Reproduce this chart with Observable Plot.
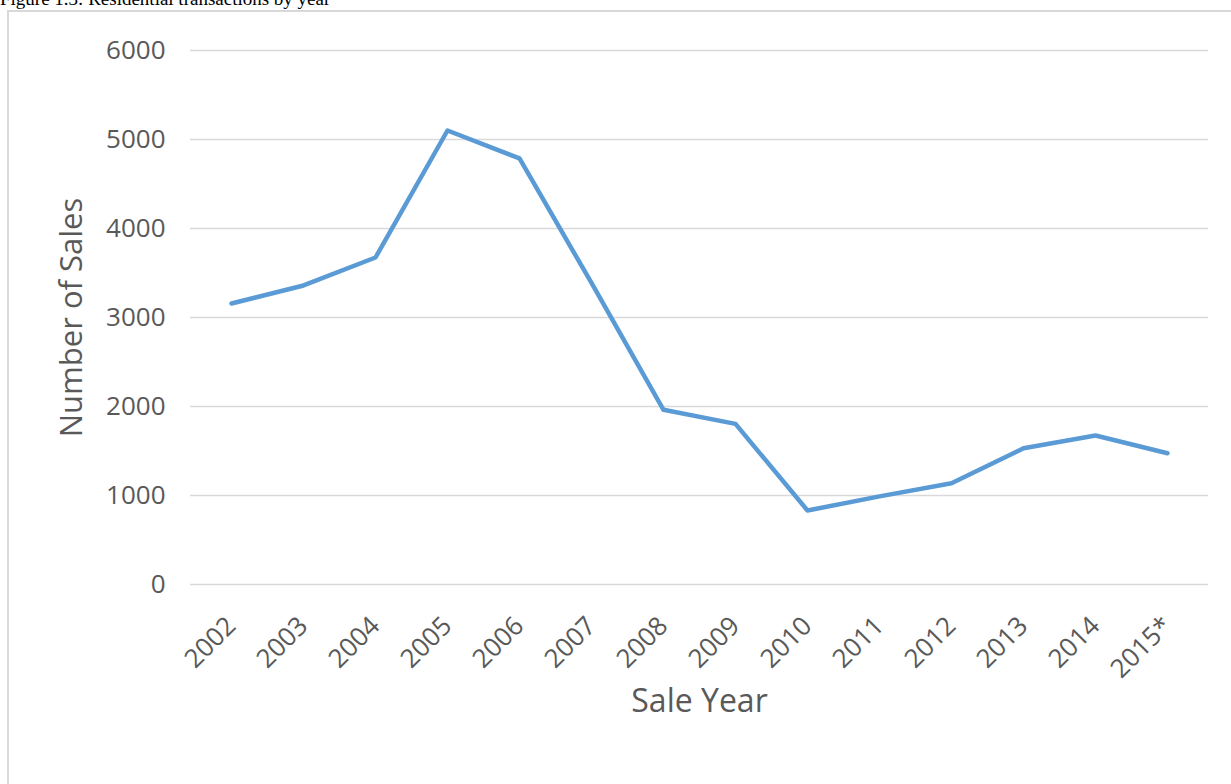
<!DOCTYPE html>
<html><head><meta charset="utf-8">
<script src="https://cdn.jsdelivr.net/npm/d3@7"></script>
<script src="https://cdn.jsdelivr.net/npm/@observablehq/plot@0.6"></script>
<style>
html,body{margin:0;padding:0;background:#fff;width:1231px;height:784px;overflow:hidden;position:relative;}
#title{position:absolute;left:0;top:-11px;font-family:"Liberation Serif","Times New Roman",serif;font-size:19px;line-height:19px;color:#000;white-space:nowrap;}
#frame{position:absolute;left:7px;top:10px;width:1300px;height:900px;border:2px solid #d9d9d9;box-sizing:border-box;}
#chart{position:absolute;left:0;top:0;}
</style></head><body>
<div id="title">Figure 1.3: Residential transactions by year</div>
<div id="frame"></div>
<div id="chart"></div>
<script>
const years = ["2002","2003","2004","2005","2006","2007","2008","2009","2010","2011","2012","2013","2014","2015*"];
const sales = [3157,3360,3674,5101,4787,3388,1963,1805,831,990,1138,1531,1674,1475];
const yTicks = [0,1000,2000,3000,4000,5000,6000];
const xTitle = "Sale Year";
const yTitle = "Number of Sales";

const data = years.map((year, i) => ({year, sales: sales[i]}));

const chart = Plot.plot({
  width: 1231, height: 784,
  marginLeft: 194, marginRight: 27, marginTop: 50, marginBottom: 200,
  style: {fontFamily: '"Open Sans", sans-serif', fontSize: "26px", color: "#595959", background: "transparent", overflow: "visible"},
  x: {type: "point", domain: years, padding: 0.5, label: null, tickSize: 0, tickPadding: 37, tickRotate: -45},
  y: {domain: [0, 6000], ticks: yTicks, tickFormat: d => String(d), label: null, tickSize: 0, tickPadding: 29},
  marks: [
    Plot.ruleY(yTicks, {stroke: "#d9d9d9", strokeWidth: 1.5, insetLeft: -4, insetRight: -4}),
    Plot.lineY(data, {x: "year", y: "sales", stroke: "#5b9bd5", strokeWidth: 4.5, strokeLinejoin: "round", strokeLinecap: "round"}),
    Plot.text([xTitle], {text: d => d, frameAnchor: "bottom", textAnchor: "middle", dy: 127, fontSize: 32, fill: "#595959"}),
    Plot.text([yTitle], {text: d => d, frameAnchor: "left", textAnchor: "middle", rotate: -90, dx: -122, fontSize: 31, fill: "#595959"})
  ]
});
document.getElementById("chart").appendChild(chart);
</script>
</body></html>
